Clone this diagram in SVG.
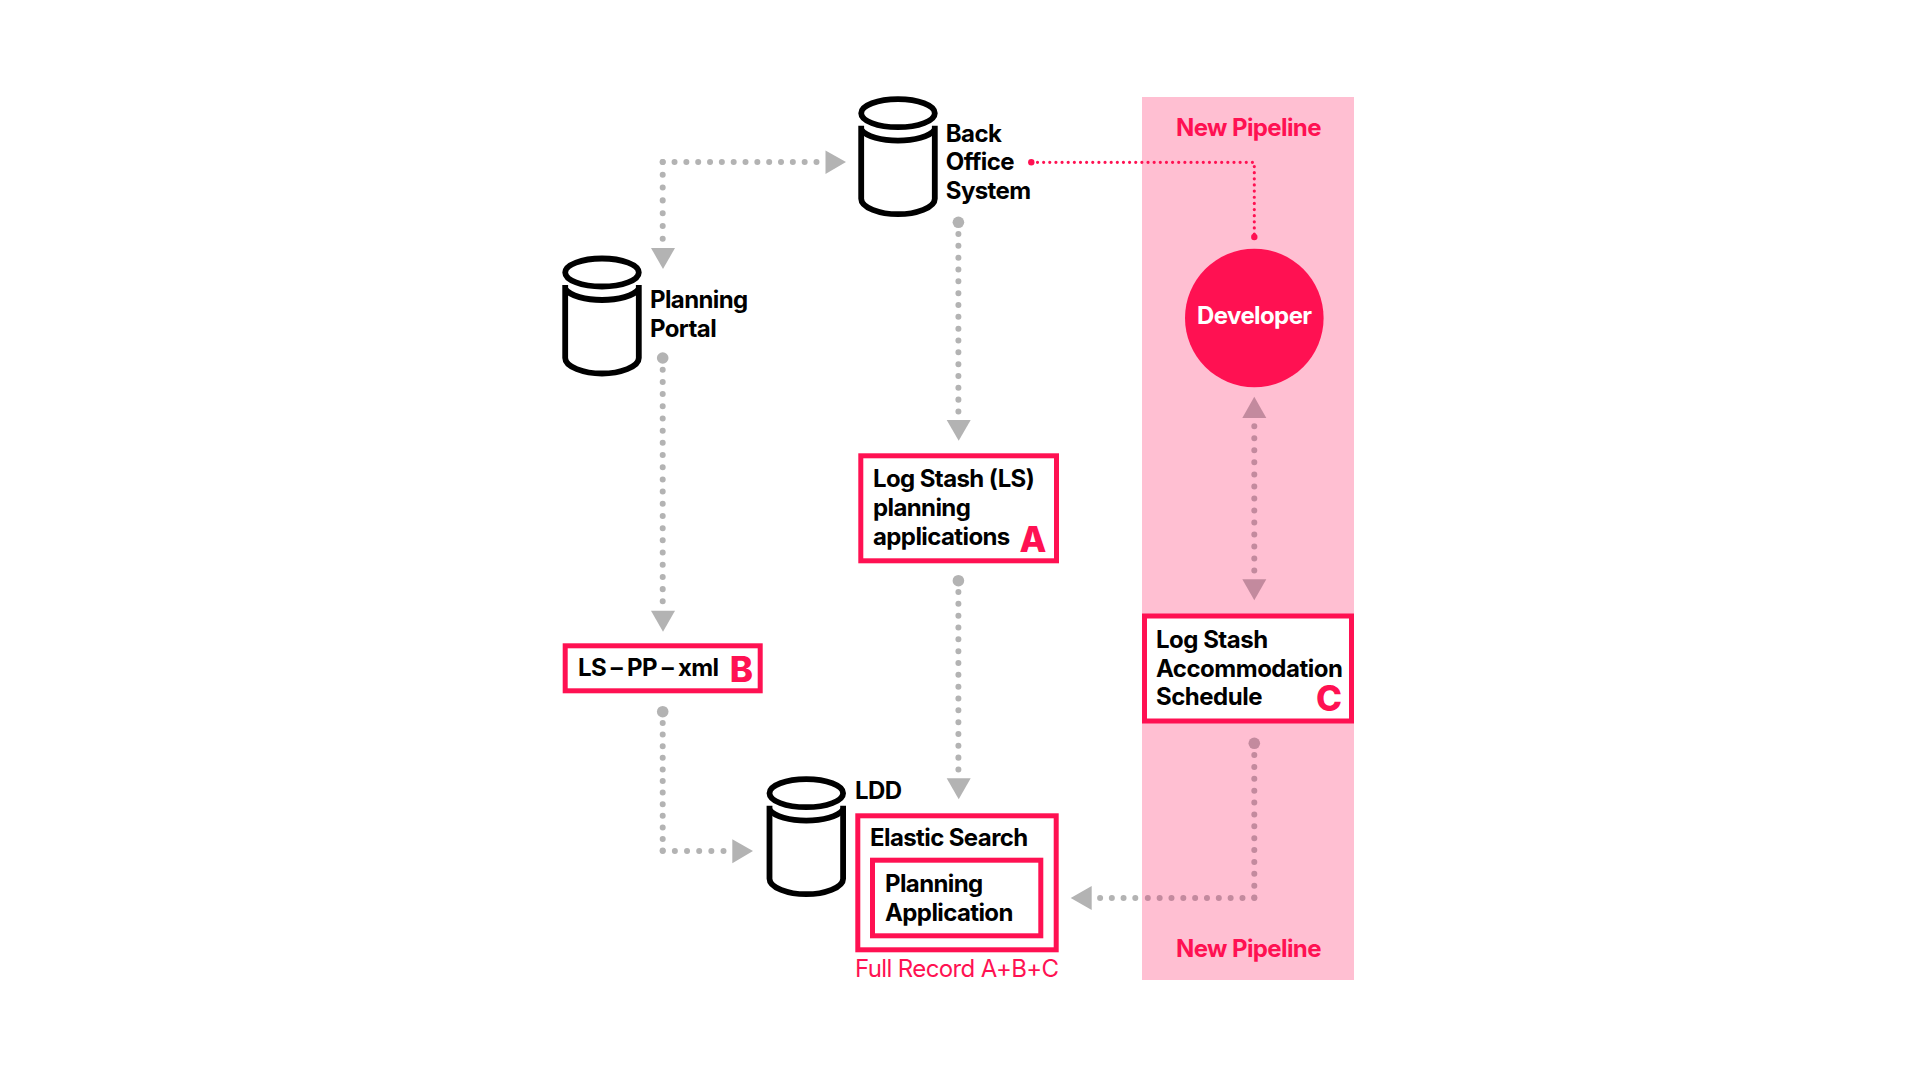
<svg xmlns="http://www.w3.org/2000/svg" xmlns:xlink="http://www.w3.org/1999/xlink" width="1920" height="1080" viewBox="0 0 1920 1080">
<style>
text{font-family:"Inter","Liberation Sans",sans-serif;font-weight:700;font-size:24px;fill:#000;letter-spacing:-0.6px}
.pk{fill:#ff1152}
.big{font-size:35px;font-weight:800;fill:#ff1152;letter-spacing:0}
.box{fill:#fff;stroke:#ff1152;stroke-width:5}
.cyl{fill:none;stroke:#000;stroke-width:5.8}
.g,.gp{fill:none;stroke-width:6;stroke-linecap:round}
.g{stroke:#b3b3b3}
.gp{stroke:#c38a9e}
.ga{fill:#b3b3b3}
.gpa{fill:#c38a9e}
.m{fill:none;stroke:#ff1152;stroke-width:3.2;stroke-linecap:round;stroke-dasharray:0.01 6.13}
</style>
<defs>
<g id="cylinder">
<ellipse cx="602" cy="272.5" rx="36.8" ry="14"/>
<path d="M565.2 285V358C565.2 367 584 373.5 602 373.5C620 373.5 638.8 367 638.8 358V285"/>
<path d="M565.2 289C570 296 586 300 602 300C618 300 634 296 638.8 289"/>
</g>
</defs>
<g id="panel"><rect x="1142" y="97" width="212" height="883" fill="#ffbfd2"/>
<text class="pk" x="1176" y="136">New Pipeline</text>
<text class="pk" x="1176" y="957">New Pipeline</text></g>
<g id="connectors">
<path class="g" style="stroke-dasharray:0.01 11.82" d="M662.7 162H817"/>
<polygon class="ga" points="825.5,150.5 825.5,174 846,162"/>
<path class="g" style="stroke-dasharray:0.01 12.78" d="M662.7 162V239"/>
<polygon class="ga" points="651,248 675,248 663,269"/>
<circle class="ga" cx="662.7" cy="358" r="5.8"/>
<path class="g" style="stroke-dasharray:0.01 12.18" d="M662.7 369.7V602"/>
<polygon class="ga" points="651,610.7 675,610.7 663,631.7"/>
<circle class="ga" cx="958.4" cy="222.3" r="5.8"/>
<path class="g" style="stroke-dasharray:0.01 11.82" d="M958.4 234V412"/>
<polygon class="ga" points="946.7,420 970.7,420 958.7,440.7"/>
<circle class="ga" cx="958.4" cy="580.7" r="5.8"/>
<path class="g" style="stroke-dasharray:0.01 11.82" d="M958.4 592V770"/>
<polygon class="ga" points="946.7,778.3 970.7,778.3 958.7,799.3"/>
<circle class="ga" cx="662.7" cy="711.7" r="5.8"/>
<path class="g" style="stroke-dasharray:0.01 11.59" d="M662.7 723V851"/>
<path class="g" style="stroke-dasharray:0.01 12.15" d="M662.7 851H723.7"/>
<polygon class="ga" points="732.3,839.3 732.3,863.3 753,851"/>
<path class="gp" style="stroke-dasharray:0.01 12.01" d="M1254.3 426.3V571"/>
<polygon class="gpa" points="1242.3,418 1266.3,418 1254.3,396.7"/>
<polygon class="gpa" points="1242.3,579.3 1266.3,579.3 1254.3,600.3"/>
<circle class="gpa" cx="1254.3" cy="743.3" r="5.8"/>
<path class="gp" style="stroke-dasharray:0.01 11.87" d="M1254.3 755V898"/>
<path class="gp" style="stroke-dasharray:0.01 11.82" d="M1254.3 898H1146.7"/>
<path class="g" style="stroke-dasharray:0.01 11.72" d="M1135.3 898H1100"/>
<polygon class="ga" points="1091.7,886 1091.7,910 1070.7,898"/>
<circle class="pk" cx="1031.3" cy="162.3" r="3.2"/>
<path class="m" d="M1037.5 162.3H1254.3V237"/>
<circle class="pk" cx="1254.3" cy="237" r="3.2"/>
</g>
<g id="node-back-office"><use xlink:href="#cylinder" href="#cylinder" class="cyl" transform="translate(296 -159.3)"/>
<text x="945.8" y="141.7">Back</text><text x="945.8" y="170">Office</text><text x="945.8" y="198.5">System</text></g>
<g id="node-planning-portal"><use xlink:href="#cylinder" href="#cylinder" class="cyl"/>
<text x="650" y="308">Planning</text><text x="650" y="336.7">Portal</text></g>
<g id="node-developer"><circle cx="1254.3" cy="318" r="69.3" fill="#ff1152"/>
<text x="1254.3" y="323.5" text-anchor="middle" style="fill:#fff">Developer</text></g>
<g id="node-a"><rect class="box" x="860.8" y="455.8" width="195.7" height="105"/>
<text x="873" y="487.3">Log Stash (LS)</text><text x="873" y="516">planning</text><text x="873" y="545">applications</text>
<text class="big" x="1019.5" y="551.7">A</text></g>
<g id="node-b"><rect class="box" x="565.2" y="645.8" width="195" height="45"/>
<text x="578" y="676" style="word-spacing:-0.3px">LS – PP – xml</text>
<text class="big" x="729.8" y="682.3">B</text></g>
<g id="node-c"><rect class="box" x="1144.5" y="616" width="207" height="105"/>
<text x="1156" y="647.7" style="letter-spacing:-0.5px">Log Stash</text><text x="1156" y="676.7" style="letter-spacing:-0.5px">Accommodation</text><text x="1156" y="705" style="letter-spacing:-0.5px">Schedule</text>
<text class="big" x="1316" y="710.5">C</text></g>
<g id="node-ldd"><use xlink:href="#cylinder" href="#cylinder" class="cyl" transform="translate(204.3 520.7)"/>
<text x="855" y="799">LDD</text></g>
<g id="node-elastic"><rect class="box" x="857.8" y="815.8" width="198.4" height="134"/>
<text x="870" y="846">Elastic Search</text>
<rect class="box" x="872.5" y="860.2" width="168.3" height="75.6"/>
<text x="885" y="892">Planning</text><text x="885" y="921">Application</text>
<text x="855" y="976.7" class="pk" style="font-weight:400;letter-spacing:-0.62px">Full Record A+B+C</text></g>
</svg>
